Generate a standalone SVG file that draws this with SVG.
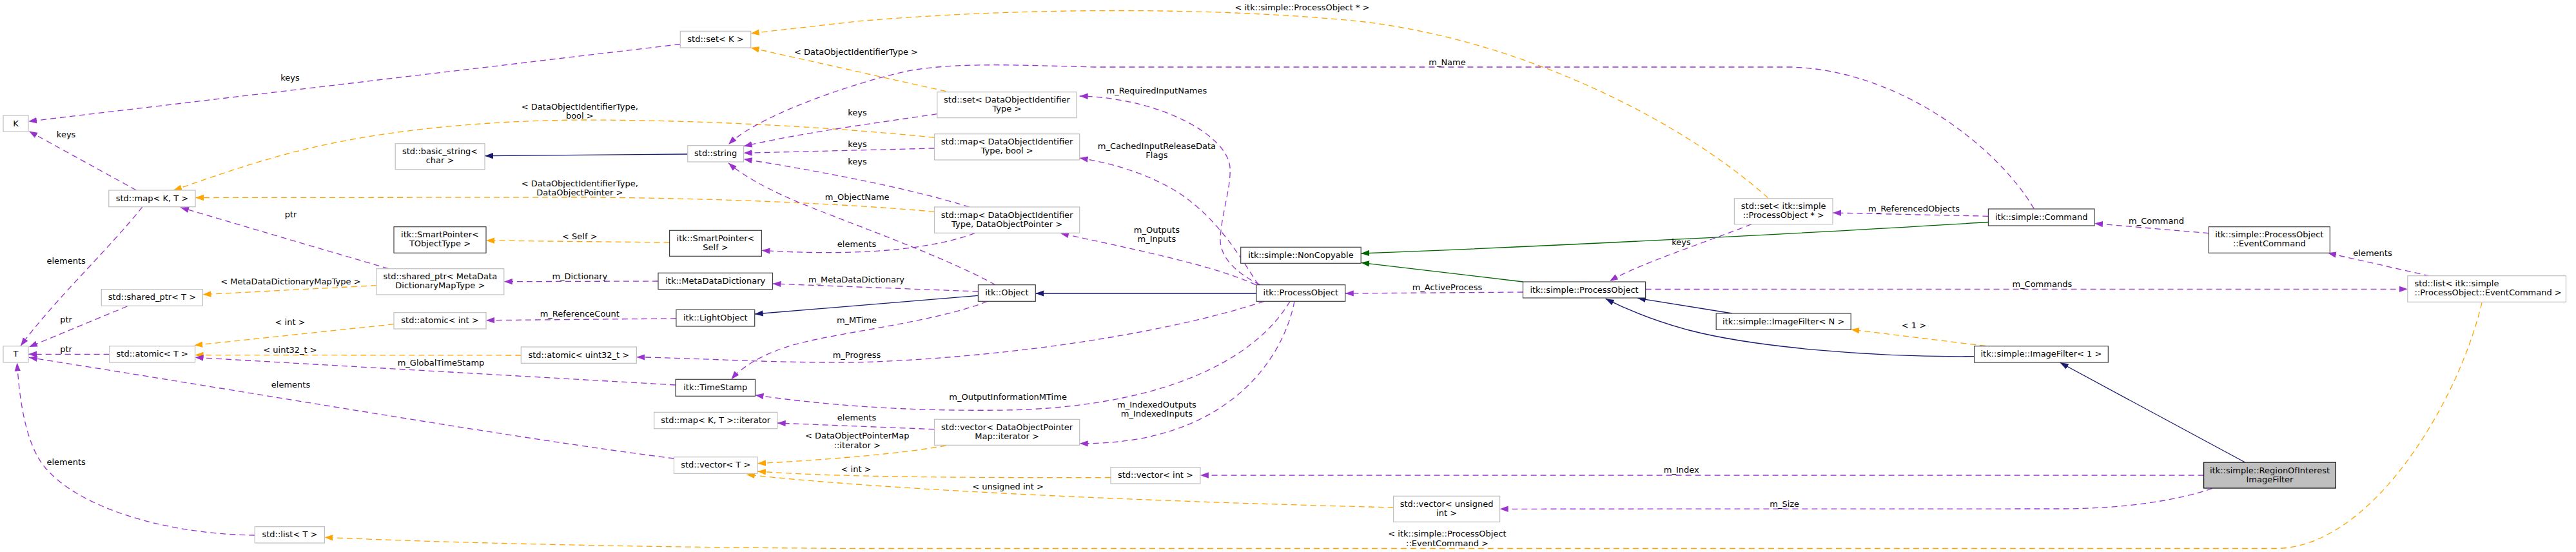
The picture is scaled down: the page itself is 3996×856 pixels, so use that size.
<svg xmlns="http://www.w3.org/2000/svg" width="3996" height="856" viewBox="0 0 3996 856">
<style>
text{font-family:"DejaVu Sans","Liberation Sans",sans-serif;font-size:13px;fill:#000}
.nt{text-anchor:middle}
.lb{text-anchor:middle}
rect{fill:#fff;stroke-width:1.2}
.g rect{stroke:#bfbfbf}
.b rect{stroke:#404040}
.e{fill:none;stroke-width:1.3}
.p{stroke:#9a32cd;stroke-dasharray:9,6}
.o{stroke:#ffa500;stroke-dasharray:9,6}
.nv{stroke:#191970}
.gr{stroke:#006400}
</style>
<defs>
<marker id="ap" markerWidth="14" markerHeight="10" refX="13" refY="5" orient="auto" markerUnits="userSpaceOnUse"><path d="M0,0.3L13,5L0,9.7z" fill="#9a32cd"/></marker>
<marker id="ao" markerWidth="14" markerHeight="10" refX="13" refY="5" orient="auto" markerUnits="userSpaceOnUse"><path d="M0,0.3L13,5L0,9.7z" fill="#ffa500"/></marker>
<marker id="an" markerWidth="14" markerHeight="10" refX="13" refY="5" orient="auto" markerUnits="userSpaceOnUse"><path d="M0,0.3L13,5L0,9.7z" fill="#191970"/></marker>
<marker id="ag" markerWidth="14" markerHeight="10" refX="13" refY="5" orient="auto" markerUnits="userSpaceOnUse"><path d="M0,0.3L13,5L0,9.7z" fill="#006400"/></marker>
</defs>
<rect x="0" y="0" width="3996" height="856" style="fill:#fff;stroke:none"/>
<g id="connectors">
<path class="e p" marker-end="url(#ap)" d="M1055.3,68.5L44,188.3"/>
<path class="e p" marker-end="url(#ap)" d="M211.5,295L45,203.5"/>
<path class="e o" marker-end="url(#ao)" d="M1449.5,213.3C1300,198 1100,186 900,186C700,188 550,210 440,240C360,262 300,285 269,295"/>
<path class="e o" marker-end="url(#ao)" d="M1449.5,328.3C1300,315 1100,307 900,306L303,306.5"/>
<path class="e p" marker-end="url(#ap)" d="M602.6,416.7L280,321.7"/>
<path class="e p" marker-end="url(#ap)" d="M221,320.7C170,385 80,470 32,536.5"/>
<path class="e o" marker-end="url(#ao)" d="M583.8,442.7L314.5,456.7"/>
<path class="e p" marker-end="url(#ap)" d="M197.4,475L45,538"/>
<path class="e o" marker-end="url(#ao)" d="M611,502.7L301.3,535.5"/>
<path class="e o" marker-end="url(#ao)" d="M808.3,551L302.6,550.5"/>
<path class="e p" marker-end="url(#ap)" d="M1048,597L302.6,554.3"/>
<path class="e p" marker-end="url(#ap)" d="M169.7,549.3L44,549.3"/>
<path class="e p" marker-end="url(#ap)" d="M1045.5,711C800,680 400,610 45,554.3"/>
<path class="e p" marker-end="url(#ap)" d="M395.3,830C250,828 120,785 70,725C40,690 30,620 26.5,562.5"/>
<path class="e o" marker-end="url(#ao)" d="M3850,469.3C3815,620 3680,850 3530,850.5L1330,850.5C1000,849 700,842 503.4,833.3"/>
<path class="e p" marker-end="url(#ap)" d="M3418.6,737L1861.9,737"/>
<path class="e p" marker-end="url(#ap)" d="M3431.4,757.7C3380,775 3300,789 3195,789L2326.6,789.3"/>
<path class="e o" marker-end="url(#ao)" d="M2161.6,787C1800,778 1400,762 1157.9,736"/>
<path class="e o" marker-end="url(#ao)" d="M1723,740.5C1500,741 1300,740 1175,731"/>
<path class="e o" marker-end="url(#ao)" d="M1467.4,691C1400,703 1300,712 1175,718.7"/>
<path class="e p" marker-end="url(#ap)" d="M1449.5,665.7L1205.7,656"/>
<path class="e p" marker-end="url(#ap)" d="M2008,467.3C1990,560 1900,690 1674.7,687.7"/>
<path class="e p" marker-end="url(#ap)" d="M2001,467.3C1940,570 1780,632 1560,636C1400,638 1280,628 1171.5,612.7"/>
<path class="e p" marker-end="url(#ap)" d="M1961,467.3C1800,520 1550,555 1330,562C1200,563 1100,556 987.4,553.7"/>
<path class="e p" marker-end="url(#ap)" d="M1531.5,467.3C1450,500 1300,515 1230,535C1180,550 1150,570 1134.4,588.3"/>
<path class="e nv" marker-end="url(#an)" d="M1517.4,458.3L1170.7,487"/>
<path class="e p" marker-end="url(#ap)" d="M1517.4,452L1198.5,440"/>
<path class="e p" marker-end="url(#ap)" d="M1048.9,494L754,496.7"/>
<path class="e p" marker-end="url(#ap)" d="M1021,436L781.8,436.7"/>
<path class="e o" marker-end="url(#ao)" d="M1038.6,376L754,373"/>
<path class="e p" marker-end="url(#ap)" d="M1512,361.7C1430,392 1300,396 1181.4,388.3"/>
<path class="e nv" marker-end="url(#an)" d="M1066.8,239L752,241.7"/>
<path class="e p" marker-end="url(#ap)" d="M1453.8,176.7C1350,192 1250,205 1153.6,226.7"/>
<path class="e p" marker-end="url(#ap)" d="M1449.5,230L1153.6,237.3"/>
<path class="e p" marker-end="url(#ap)" d="M1503.8,321C1420,295 1300,270 1153.6,246.7"/>
<path class="e p" marker-end="url(#ap)" d="M1544,441.7C1460,395 1300,340 1230,310C1180,288 1150,270 1130,252.7"/>
<path class="e p" marker-end="url(#ap)" d="M3155,323.3C3100,230 2950,110 2780,104L1700,104C1600,102 1500,96 1420,108C1350,120 1180,175 1130,224"/>
<path class="e o" marker-end="url(#ao)" d="M2742.6,306.7C2600,180 2350,60 2108,33C1900,12 1600,10 1330,33L1164.7,51.7"/>
<path class="e o" marker-end="url(#ao)" d="M1467.4,141.7L1164.7,74"/>
<path class="e p" marker-end="url(#ap)" d="M1955,441.7C1920,425 1892,400 1893,370C1895,330 1910,290 1908,260C1905,210 1800,152 1674.7,149"/>
<path class="e p" marker-end="url(#ap)" d="M1952,441.7C1925,400 1890,340 1830,300C1780,268 1720,252 1674.7,245"/>
<path class="e p" marker-end="url(#ap)" d="M1948,441.7C1880,410 1750,385 1644.8,361.7"/>
<path class="e p" marker-end="url(#ap)" d="M2362.5,453L2086.8,455"/>
<path class="e nv" marker-end="url(#an)" d="M1949,455L1606.3,455"/>
<path class="e gr" marker-end="url(#ag)" d="M2362.5,437L2111.2,407.3"/>
<path class="e gr" marker-end="url(#ag)" d="M3084.4,344.5C2800,362 2400,382 2111.2,393"/>
<path class="e p" marker-end="url(#ap)" d="M2717,347.7C2640,378 2540,410 2497,436"/>
<path class="e p" marker-end="url(#ap)" d="M3084.4,335.3L2843,330"/>
<path class="e p" marker-end="url(#ap)" d="M3426.3,361.7L3249,346.5"/>
<path class="e p" marker-end="url(#ap)" d="M3769,428L3611,392.3"/>
<path class="e p" marker-end="url(#ap)" d="M2552.6,448.5L3734.8,448.3"/>
<path class="e nv" marker-end="url(#an)" d="M2687,486L2540,462.3"/>
<path class="e nv" marker-end="url(#an)" d="M3062.6,552.7C2900,554 2720,538 2620,512C2560,496 2520,478 2490.7,463.3"/>
<path class="e o" marker-end="url(#ao)" d="M3080,536.5L2871.2,511"/>
<path class="e nv" marker-end="url(#an)" d="M3482.7,717L3195.6,562.3"/>
<g class="lb">
<text class="lb" x="450" y="125.2">keys</text>
<text class="lb" x="102.6" y="212.8">keys</text>
<text class="lb" x="451" y="337.2">ptr</text>
<text class="lb" x="102.6" y="408.8">elements</text>
<text class="lb" x="450.9" y="441.2">&lt; MetaDataDictionaryMapType &gt;</text>
<text class="lb" x="102.6" y="499.5">ptr</text>
<text class="lb" x="450" y="503.8">&lt; int &gt;</text>
<text class="lb" x="102.6" y="545.5">ptr</text>
<text class="lb" x="450" y="547.2">&lt; uint32_t &gt;</text>
<text class="lb" x="684" y="567.2">m_GlobalTimeStamp</text>
<text class="lb" x="451" y="601.2">elements</text>
<text class="lb" x="102.6" y="721.2">elements</text>
<text class="lb" x="899.3" y="169.5">&lt; DataObjectIdentifierType,</text>
<text class="lb" x="899.3" y="183.8">bool &gt;</text>
<text class="lb" x="899.3" y="288.5">&lt; DataObjectIdentifierType,</text>
<text class="lb" x="899.3" y="302.8">DataObjectPointer &gt;</text>
<text class="lb" x="899.3" y="370.5">&lt; Self &gt;</text>
<text class="lb" x="899.3" y="432.5">m_Dictionary</text>
<text class="lb" x="899.3" y="491.2">m_ReferenceCount</text>
<text class="lb" x="1328" y="85.2">&lt; DataObjectIdentifierType &gt;</text>
<text class="lb" x="1330" y="178.5">keys</text>
<text class="lb" x="1330" y="227.8">keys</text>
<text class="lb" x="1330" y="254.5">keys</text>
<text class="lb" x="1329.7" y="309.5">m_ObjectName</text>
<text class="lb" x="1329" y="382.8">elements</text>
<text class="lb" x="1328.5" y="437.5">m_MetaDataDictionary</text>
<text class="lb" x="1329" y="500.5">m_MTime</text>
<text class="lb" x="1329" y="554.8">m_Progress</text>
<text class="lb" x="1329" y="652.2">elements</text>
<text class="lb" x="1329.7" y="679.8">&lt; DataObjectPointerMap</text>
<text class="lb" x="1329.7" y="694.8">::iterator &gt;</text>
<text class="lb" x="1328" y="732.2">&lt; int &gt;</text>
<text class="lb" x="1563.6" y="758.8">&lt; unsigned int &gt;</text>
<text class="lb" x="1563.6" y="619.5">m_OutputInformationMTime</text>
<text class="lb" x="1794.4" y="145.2">m_RequiredInputNames</text>
<text class="lb" x="1794.4" y="231.2">m_CachedInputReleaseData</text>
<text class="lb" x="1794.4" y="245.2">Flags</text>
<text class="lb" x="1794.4" y="360.5">m_Outputs</text>
<text class="lb" x="1794.4" y="375.2">m_Inputs</text>
<text class="lb" x="1794.4" y="631.5">m_IndexedOutputs</text>
<text class="lb" x="1794.4" y="645.5">m_IndexedInputs</text>
<text class="lb" x="2020" y="16.2">&lt; itk::simple::ProcessObject * &gt;</text>
<text class="lb" x="2245" y="100.5">m_Name</text>
<text class="lb" x="2608" y="379.5">keys</text>
<text class="lb" x="2245" y="449.5">m_ActiveProcess</text>
<text class="lb" x="2608.2" y="733.2">m_Index</text>
<text class="lb" x="2245" y="832.2">&lt; itk::simple::ProcessObject</text>
<text class="lb" x="2245" y="847.2">::EventCommand &gt;</text>
<text class="lb" x="2969" y="327.8">m_ReferencedObjects</text>
<text class="lb" x="3345" y="347.2">m_Command</text>
<text class="lb" x="3167.8" y="444.5">m_Commands</text>
<text class="lb" x="2969" y="509.2">&lt; 1 &gt;</text>
<text class="lb" x="2768.2" y="785.5">m_Size</text>
<text class="lb" x="3680.5" y="396.8">elements</text>
</g>
</g>
<g id="n_K" class="g"><rect x="5" y="179" width="39" height="25.3"/><text class="nt" x="24.5" y="195.7">K</text></g>
<g id="n_mapKT" class="g"><rect x="168.8" y="295" width="134.2" height="25.7"/><text class="nt" x="235.9" y="311.7">std::map&lt; K, T &gt;</text></g>
<g id="n_sharedptrT" class="g"><rect x="157.3" y="448.7" width="157.2" height="25.6"/><text class="nt" x="235.9" y="465.4">std::shared_ptr&lt; T &gt;</text></g>
<g id="n_T" class="g"><rect x="5" y="536.7" width="39" height="25.3"/><text class="nt" x="24.5" y="553.4">T</text></g>
<g id="n_atomicT" class="g"><rect x="169.7" y="536.7" width="132.9" height="25.3"/><text class="nt" x="236.2" y="553.4">std::atomic&lt; T &gt;</text></g>
<g id="n_listT" class="g"><rect x="395.3" y="816.7" width="108.1" height="25.3"/><text class="nt" x="449.4" y="833.4">std::list&lt; T &gt;</text></g>
<g id="n_basicstring" class="g"><rect x="613.2" y="222.7" width="138.8" height="40"/><text class="nt" x="682.6" y="239.3">std::basic_string&lt;</text><text class="nt" x="682.6" y="253.3">char &gt;</text></g>
<g id="n_smartptrT" class="b"><rect x="611" y="351.7" width="143" height="40.6"/><text class="nt" x="682.5" y="368.3">itk::SmartPointer&lt;</text><text class="nt" x="682.5" y="382.3">TObjectType &gt;</text></g>
<g id="n_sharedptrMD" class="g"><rect x="583.8" y="416.7" width="198" height="40.3"/><text class="nt" x="682.8" y="433.3">std::shared_ptr&lt; MetaData</text><text class="nt" x="682.8" y="447.3">DictionaryMapType &gt;</text></g>
<g id="n_atomicint" class="g"><rect x="611" y="484.7" width="143" height="25.3"/><text class="nt" x="682.5" y="501.4">std::atomic&lt; int &gt;</text></g>
<g id="n_setK" class="g"><rect x="1055.3" y="48.3" width="109.4" height="25.7"/><text class="nt" x="1110" y="65">std::set&lt; K &gt;</text></g>
<g id="n_string" class="g"><rect x="1066.8" y="225.7" width="86.8" height="25.3"/><text class="nt" x="1110.2" y="242.4">std::string</text></g>
<g id="n_smartptrSelf" class="b"><rect x="1038.6" y="357.3" width="142.8" height="40"/><text class="nt" x="1110" y="373.9">itk::SmartPointer&lt;</text><text class="nt" x="1110" y="387.9">Self &gt;</text></g>
<g id="n_mdd" class="b"><rect x="1021" y="423.3" width="177.5" height="25.4"/><text class="nt" x="1109.75" y="440">itk::MetaDataDictionary</text></g>
<g id="n_lightobject" class="b"><rect x="1048.9" y="480.3" width="121.8" height="25.7"/><text class="nt" x="1109.8" y="497">itk::LightObject</text></g>
<g id="n_atomicu32" class="g"><rect x="808.3" y="538" width="179.1" height="25.3"/><text class="nt" x="897.85" y="554.7">std::atomic&lt; uint32_t &gt;</text></g>
<g id="n_timestamp" class="b"><rect x="1048" y="588.3" width="123.5" height="26"/><text class="nt" x="1109.75" y="605">itk::TimeStamp</text></g>
<g id="n_mapiter" class="g"><rect x="1014.7" y="639.3" width="191" height="25.4"/><text class="nt" x="1110.2" y="656">std::map&lt; K, T &gt;::iterator</text></g>
<g id="n_vectorT" class="g"><rect x="1045.5" y="708.7" width="129.5" height="25.6"/><text class="nt" x="1110.25" y="725.4">std::vector&lt; T &gt;</text></g>
<g id="n_setDOI" class="g"><rect x="1453.8" y="142.7" width="216.2" height="40"/><text class="nt" x="1561.9" y="159.3">std::set&lt; DataObjectIdentifier</text><text class="nt" x="1561.9" y="173.3">Type &gt;</text></g>
<g id="n_mapDOIbool" class="g"><rect x="1449.5" y="207.7" width="225.2" height="40.3"/><text class="nt" x="1562.1" y="224.3">std::map&lt; DataObjectIdentifier</text><text class="nt" x="1562.1" y="238.3">Type, bool &gt;</text></g>
<g id="n_mapDOIptr" class="g"><rect x="1449.5" y="321" width="225.2" height="40.3"/><text class="nt" x="1562.1" y="337.6">std::map&lt; DataObjectIdentifier</text><text class="nt" x="1562.1" y="351.6">Type, DataObjectPointer &gt;</text></g>
<g id="n_object" class="b"><rect x="1517.4" y="441.7" width="88.9" height="25.6"/><text class="nt" x="1561.85" y="458.4">itk::Object</text></g>
<g id="n_vectorDOPM" class="g"><rect x="1449.5" y="650.3" width="225.2" height="40"/><text class="nt" x="1562.1" y="666.9">std::vector&lt; DataObjectPointer</text><text class="nt" x="1562.1" y="680.9">Map::iterator &gt;</text></g>
<g id="n_vectorint" class="g"><rect x="1723" y="724.7" width="138.9" height="25.3"/><text class="nt" x="1792.45" y="741.4">std::vector&lt; int &gt;</text></g>
<g id="n_noncopyable" class="b"><rect x="1924.7" y="383.3" width="186.5" height="25"/><text class="nt" x="2017.95" y="400">itk::simple::NonCopyable</text></g>
<g id="n_processobject" class="b"><rect x="1949" y="441.7" width="137.8" height="25.6"/><text class="nt" x="2017.9" y="458.4">itk::ProcessObject</text></g>
<g id="n_simplePO" class="b"><rect x="2362.5" y="437" width="190.1" height="25"/><text class="nt" x="2457.55" y="453.7">itk::simple::ProcessObject</text></g>
<g id="n_vectoruint" class="g"><rect x="2161.6" y="769.3" width="165" height="40"/><text class="nt" x="2244.1" y="785.9">std::vector&lt; unsigned</text><text class="nt" x="2244.1" y="799.9">int &gt;</text></g>
<g id="n_setPO" class="g"><rect x="2690.4" y="307.7" width="152.6" height="40"/><text class="nt" x="2766.7" y="324.3">std::set&lt; itk::simple</text><text class="nt" x="2766.7" y="338.3">::ProcessObject * &gt;</text></g>
<g id="n_command" class="b"><rect x="3084.4" y="324" width="164.6" height="26"/><text class="nt" x="3166.7" y="340.7">itk::simple::Command</text></g>
<g id="n_imagefilterN" class="b"><rect x="2662.2" y="486" width="209" height="25.3"/><text class="nt" x="2766.7" y="502.7">itk::simple::ImageFilter&lt; N &gt;</text></g>
<g id="n_imagefilter1" class="b"><rect x="3062.6" y="536.7" width="207.7" height="25.3"/><text class="nt" x="3166.45" y="553.4">itk::simple::ImageFilter&lt; 1 &gt;</text></g>
<g id="n_eventcommand" class="b"><rect x="3426.3" y="351.7" width="188" height="40.6"/><text class="nt" x="3520.3" y="368.3">itk::simple::ProcessObject</text><text class="nt" x="3520.3" y="382.3">::EventCommand</text></g>
<g id="n_listEC" class="g"><rect x="3734.8" y="427.7" width="245.7" height="40.6"/><text x="3745.5" y="444.3">std::list&lt; itk::simple</text><text x="3745.5" y="458.3">::ProcessObject::EventCommand &gt;</text></g>
<g id="n_roi" class="b"><rect x="3418.6" y="717" width="204.7" height="40" style="fill:#bfbfbf;stroke:#000"/><text class="nt" x="3521" y="733.6">itk::simple::RegionOfInterest</text><text class="nt" x="3521" y="747.6">ImageFilter</text></g>
</svg>
